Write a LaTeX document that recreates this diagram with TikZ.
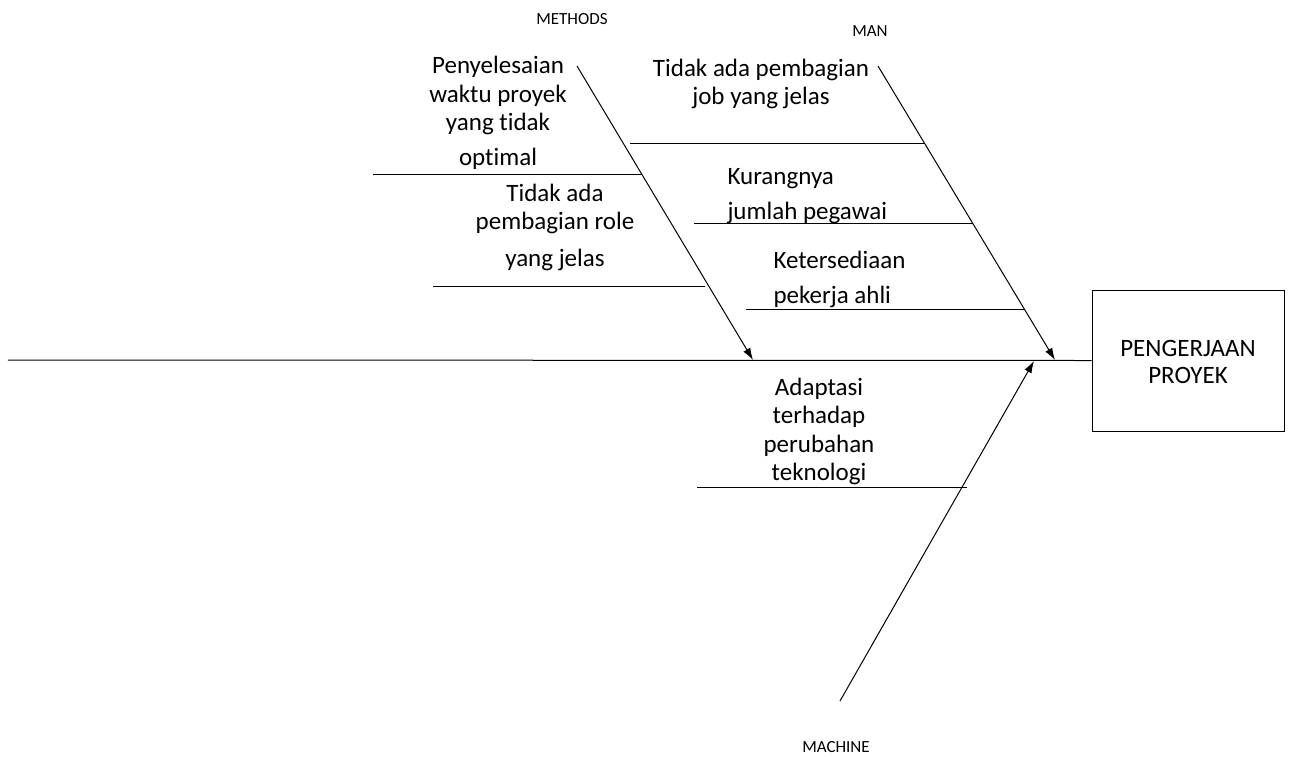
\documentclass[tikz,border=0pt]{standalone}
\usepackage{fontspec}
\setmainfont{Carlito}[Ligatures=NoCommon]
\usetikzlibrary{arrows.meta}
\begin{document}
\begin{tikzpicture}[x=1pt,y=-1pt,line width=1pt,
  lbl/.style={font=\fontsize{25}{28.5}\selectfont,inner sep=0pt,align=center},
  lbll/.style={font=\fontsize{25}{28.5}\selectfont,inner sep=0pt,align=left,anchor=west},
  cat/.style={font=\fontsize{17}{20}\selectfont,inner sep=0pt},
  bone/.style={-{Latex[length=12pt,width=8pt]}},
  effectbox/.style={draw,minimum width=192pt,minimum height=141pt,inner sep=0pt}]
\useasboundingbox (0,0) rectangle (1291,756);
% effect and spine
\node[effectbox,lbl,font=\fontsize{25}{27}\selectfont] (effect) at (1188,360.5) {\rule{0pt}{20pt}PENGERJAAN\\PROYEK};
\coordinate (tail) at (8,360);
\draw (tail) -- (effect.west);
% bone heads on spine
\coordinate (mhead) at (753,360);
\coordinate (manhead) at (1055,360);
\coordinate (machead) at (1034,361);
% bone free ends
\coordinate (mtop) at (577,66);
\coordinate (mantop) at (878,66);
\coordinate (macbot) at (840,701);
\draw[bone] (mtop) -- (mhead);
\draw[bone] (mantop) -- (manhead);
\draw[bone] (macbot) -- (machead);
% category labels
\node[cat] (methods) at (572,19) {METHODS};
\node[cat] (man) at (870,31) {MAN};
\node[cat] (machine) at (836,747) {MACHINE};
% ribs
\coordinate (r1a) at (373,174.5); \coordinate (r1b) at (642,174.5);
\coordinate (r2a) at (433,286);   \coordinate (r2b) at (705,286);
\coordinate (r3a) at (630,143);   \coordinate (r3b) at (924,143);
\coordinate (r4a) at (694,223);   \coordinate (r4b) at (972,223);
\coordinate (r5a) at (746,309);   \coordinate (r5b) at (1024,309);
\coordinate (r6a) at (697,487);   \coordinate (r6b) at (967,487);
\draw (r1a) -- (r1b);
\draw (r2a) -- (r2b);
\draw (r3a) -- (r3b);
\draw (r4a) -- (r4b);
\draw (r5a) -- (r5b);
\draw (r6a) -- (r6b);
% cause texts
\node[lbl] (c1) at (498,113) {Penyelesaian\\waktu proyek\\yang tidak\\[6.5pt]optimal};
\node[lbl] (c2) at (555,227.5) {Tidak ada\\pembagian role\\[8.5pt]yang jelas};
\node[lbl] (c3) at (761,84) {Tidak ada pembagian\\job yang jelas};
\node[lbll] (c4) at (727,196) {Kurangnya\\[6.5pt]jumlah pegawai};
\node[lbll] (c5) at (773,279.5) {Ketersediaan\\[6.5pt]pekerja ahli};
\node[lbl] (c6) at (819,431.5) {Adaptasi\\terhadap\\perubahan\\teknologi};
\end{tikzpicture}
\end{document}
